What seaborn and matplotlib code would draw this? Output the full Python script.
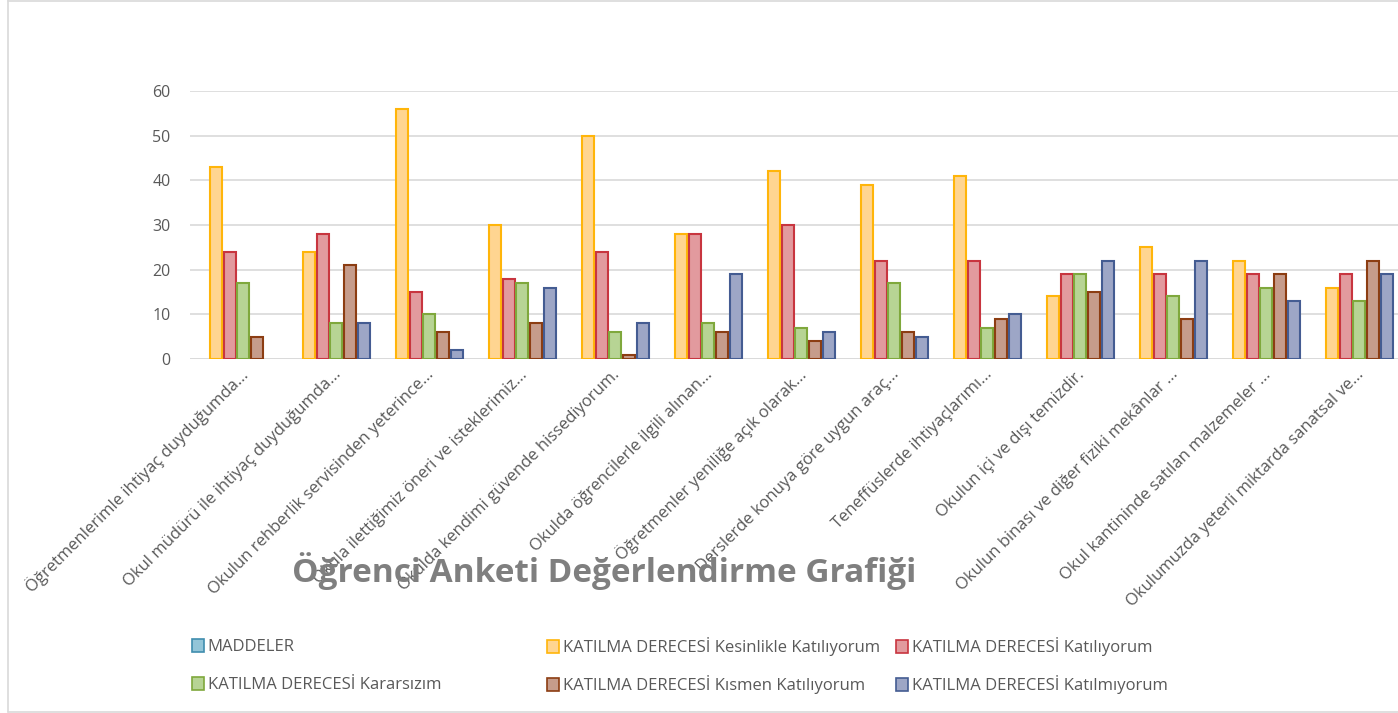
import pandas as pd
import matplotlib.pyplot as plt
import matplotlib.transforms as mtransforms
import seaborn as sns
from matplotlib.patches import Patch
from matplotlib.lines import Line2D

# Survey items (x tick labels as shown in the chart)
maddeler = [
    "Öğretmenlerimle ihtiyaç duyduğumda...",
    "Okul müdürü ile ihtiyaç duyduğumda...",
    "Okulun rehberlik servisinden yeterince...",
    "Okula ilettiğimiz öneri ve isteklerimiz...",
    "Okulda kendimi güvende hissediyorum.",
    "Okulda öğrencilerle ilgili alınan...",
    "Öğretmenler yeniliğe açık olarak...",
    "Derslerde konuya göre uygun araç...",
    "Teneffüslerde ihtiyaçlarımı...",
    "Okulun içi ve dışı temizdir.",
    "Okulun binası ve diğer fiziki mekânlar ...",
    "Okul kantininde satılan malzemeler ...",
    "Okulumuzda yeterli miktarda sanatsal ve...",
]

series_names = [
    "MADDELER",
    "KATILMA DERECESİ Kesinlikle Katılıyorum",
    "KATILMA DERECESİ Katılıyorum",
    "KATILMA DERECESİ Kararsızım",
    "KATILMA DERECESİ Kısmen Katılıyorum",
    "KATILMA DERECESİ Katılmıyorum",
]

# MADDELER is a text column in the source sheet -> no bars, only a legend slot
maddeler_vals = [0] * 13
kesinlikle = [43, 24, 56, 30, 50, 28, 42, 39, 41, 14, 25, 22, 16]
katiliyorum = [24, 28, 15, 18, 24, 28, 30, 22, 22, 19, 19, 19, 19]
kararsizim = [17, 8, 10, 17, 6, 8, 7, 17, 7, 19, 14, 16, 13]
kismen = [5, 21, 6, 8, 1, 6, 4, 6, 9, 15, 9, 19, 22]
katilmiyorum = [0, 8, 2, 16, 8, 19, 6, 5, 10, 22, 22, 13, 19]

fill_colors = ["#93C5D8", "#FFD591", "#E29A9E", "#B7D494", "#C69C8B", "#9DA6C6"]
edge_colors = ["#3F8DAE", "#FFB50A", "#C8353F", "#7FA83C", "#8C3D12", "#445C92"]

rows = []
for name, vals in zip(series_names, [maddeler_vals, kesinlikle, katiliyorum,
                                     kararsizim, kismen, katilmiyorum]):
    for item, v in zip(maddeler, vals):
        rows.append({"madde": item, "seri": name, "deger": v})
df = pd.DataFrame(rows)

sns.set_style("white")
plt.rcParams['font.family'] = ['Open Sans', 'DejaVu Sans']

W, H = 1398, 713
fig = plt.figure(figsize=(W / 100, H / 100), dpi=100)
ax = fig.add_axes([190 / W, 1 - 359 / H, (1399 - 190) / W, (359 - 91) / H])

sns.barplot(data=df, x="madde", y="deger", hue="seri",
            order=maddeler, hue_order=series_names,
            palette=fill_colors, saturation=1, width=0.9, gap=0.14,
            linewidth=1.5, legend=False, ax=ax)

# edge colours per series, hide zero-height bars
for container, ec in zip(ax.containers, edge_colors):
    for bar in container:
        bar.set_edgecolor(ec)
        if bar.get_height() == 0:
            bar.set_visible(False)

ax.set_ylim(0, 60)
ax.set_yticks(range(0, 61, 10))
ax.set_xlim(-0.5, len(maddeler) - 0.5)
ax.grid(axis='y', color='#D9D9D9', linewidth=1.2)
ax.set_axisbelow(True)
for s in ax.spines.values():
    s.set_visible(False)
ax.axhline(0, color='#D9D9D9', linewidth=1.2, zorder=0)

ax.tick_params(axis='y', length=0, pad=14, labelsize=11.5, labelcolor='#595959')
ax.tick_params(axis='x', length=0, pad=6, labelsize=12, labelcolor='#595959')
shift = mtransforms.ScaledTranslation(9 / 100, -5 / 100, fig.dpi_scale_trans)
for lbl in ax.get_xticklabels():
    lbl.set_rotation(45)
    lbl.set_ha('right')
    lbl.set_va('center')
    lbl.set_rotation_mode('anchor')
    lbl.set_transform(lbl.get_transform() + shift)
ax.set_xlabel('')
ax.set_ylabel('')

# title sits low, overlapping the item labels as in the original
fig.text(604 / W, 1 - 571 / H, "Öğrenci Anketi Değerlendirme Grafiği",
         ha='center', va='center', fontsize=24, fontweight='bold', color='#7F7F7F')

# legend entries at fixed spots (3 columns x 2 rows)
handles = [Patch(facecolor=f, edgecolor=e, linewidth=1.2)
           for f, e in zip(fill_colors, edge_colors)]
spots = [(192, 647), (547, 647), (896, 647), (192, 685), (547, 685), (896, 685)]
for (x0, y0), h, name in zip(spots, handles, series_names):
    fig.legend([h], [name],
               loc='center left', bbox_to_anchor=(x0 / W, 1 - y0 / H),
               frameon=False, fontsize=12, labelcolor='#595959',
               handlelength=0.7, handleheight=0.8, handletextpad=0.25,
               borderpad=0, borderaxespad=0)

# outer chart border
for xs, ys in [([8, 8], [0, 712]), ([8, W], [712, 712]), ([8, W], [0.5, 0.5])]:
    fig.add_artist(Line2D([x / W for x in xs], [1 - y / H for y in ys],
                          color='#D9D9D9', linewidth=1.2))

fig.savefig("out.png", dpi=100)
